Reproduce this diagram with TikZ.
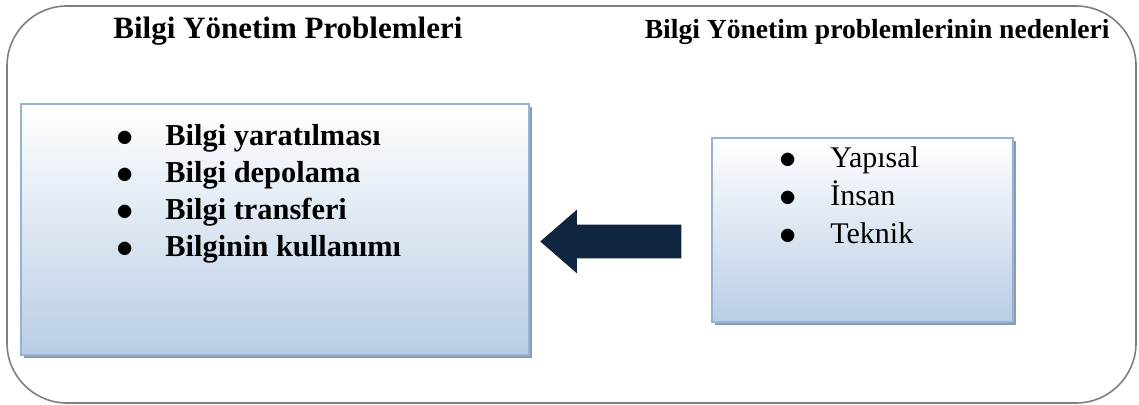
\documentclass[tikz,border=0pt]{standalone}
\usepackage{fontspec}
\setmainfont{Liberation Serif}
\usetikzlibrary{positioning, shadows, shapes.arrows}

\definecolor{boxblue}{HTML}{B9CDE5}
\definecolor{boxedge}{HTML}{95B3D7}
\definecolor{boxshadow}{HTML}{8B9BB1}
\definecolor{arrownavy}{HTML}{10253F}
\definecolor{framegray}{HTML}{7F7F7F}

\newcommand{\listdot}{\smash{\raisebox{-0.5pt}{\fontsize{18}{18}\selectfont$\bullet$}}}

\begin{document}
\begin{tikzpicture}[x=0.5pt, y=-0.5pt,
  frame/.style={draw=framegray, line width=0.8pt, rounded corners=30pt},
  listbox/.style={rectangle, draw=boxedge, line width=1pt, top color=white, bottom color=boxblue,
    drop shadow={shadow xshift=1.5pt, shadow yshift=-1.5pt, fill=boxshadow, opacity=1}},
  title/.style={inner sep=0pt},
  items/.style={inner sep=0pt, align=left},
  bigarrow/.style={single arrow, fill=arrownavy, shape border rotate=180, inner xsep=0pt, inner ysep=8.25pt,
    text height=0pt, text depth=0pt, minimum height=70.5pt, minimum width=31.5pt,
    single arrow head extend=7.5pt, single arrow tip angle=82}
]
  \useasboundingbox (0,0) rectangle (1139,405);
  % Outer frame
  \draw[frame] (7,6) rectangle (1136,403);
  % Titles
  \node[title, anchor=base west, font=\fontsize{15.5}{18}\selectfont\bfseries] (probtitle) at (113,39) {Bilgi Yönetim Problemleri};
  \node[title, anchor=base east, font=\fontsize{13.8}{16}\selectfont\bfseries] (causetitle) at (1110,39) {Bilgi Yönetim problemlerinin nedenleri};
  % Boxes
  \node[listbox, minimum width=254pt, minimum height=125.5pt] (probbox) at (275,229.5) {};
  \node[listbox, minimum width=150.5pt, minimum height=92pt] (causebox) at (862.5,230) {};
  % Lists
  \node[items, anchor=base west, font=\fontsize{15.2}{18.5}\selectfont\bfseries] (problist) at (116,146) {%
    \begin{tabular}[t]{@{}p{24.5pt}@{}l@{}}
      \listdot & Bilgi yaratılması\\
      \listdot & Bilgi depolama\\
      \listdot & Bilgi transferi\\
      \listdot & Bilginin kullanımı
    \end{tabular}};
  \node[items, anchor=base west, font=\fontsize{15}{18.9}\selectfont] (causelist) at (779,168) {%
    \begin{tabular}[t]{@{}p{25.5pt}@{}l@{}}
      \listdot & Yapısal\\
      \listdot & İnsan\\
      \listdot & Teknik
    \end{tabular}};
  % Arrow
  \node[bigarrow] (arrow) at (620.5,241.5) {};
\end{tikzpicture}
\end{document}
